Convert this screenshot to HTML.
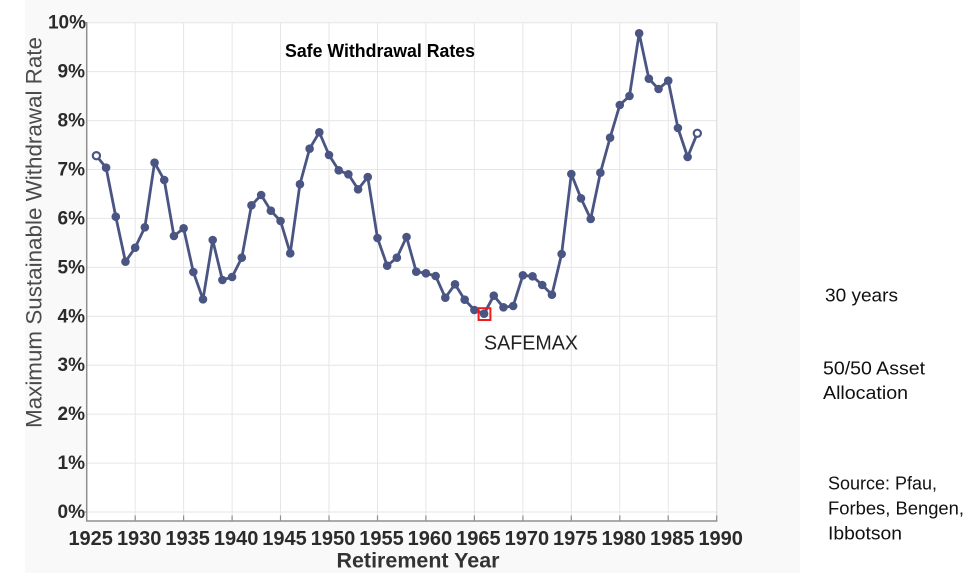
<!DOCTYPE html>
<html>
<head>
<meta charset="utf-8">
<style>
  html, body { margin:0; padding:0; background:#ffffff; }
  body { width:975px; height:580px; overflow:hidden; }
  svg { display:block; }
</style>
</head>
<body>
<svg width="975" height="580" viewBox="0 0 975 580" xmlns="http://www.w3.org/2000/svg">
  <rect x="25" y="0" width="775" height="573" fill="#f9f9f9"/>
  <rect x="86.7" y="22.7" width="630" height="498.3" fill="#ffffff"/>

  <g stroke="#e6e6e6" stroke-width="1">
    <line x1="86.7" y1="22.7" x2="716.7" y2="22.7"/>
    <line x1="86.7" y1="71.6" x2="716.7" y2="71.6"/>
    <line x1="86.7" y1="120.6" x2="716.7" y2="120.6"/>
    <line x1="86.7" y1="169.5" x2="716.7" y2="169.5"/>
    <line x1="86.7" y1="218.4" x2="716.7" y2="218.4"/>
    <line x1="86.7" y1="267.4" x2="716.7" y2="267.4"/>
    <line x1="86.7" y1="316.3" x2="716.7" y2="316.3"/>
    <line x1="86.7" y1="365.2" x2="716.7" y2="365.2"/>
    <line x1="86.7" y1="414.1" x2="716.7" y2="414.1"/>
    <line x1="86.7" y1="463.1" x2="716.7" y2="463.1"/>
    <line x1="86.7" y1="512" x2="716.7" y2="512"/>
    <line x1="135.2" y1="22.7" x2="135.2" y2="521"/>
    <line x1="183.6" y1="22.7" x2="183.6" y2="521"/>
    <line x1="232.1" y1="22.7" x2="232.1" y2="521"/>
    <line x1="280.5" y1="22.7" x2="280.5" y2="521"/>
    <line x1="329.0" y1="22.7" x2="329.0" y2="521"/>
    <line x1="377.5" y1="22.7" x2="377.5" y2="521"/>
    <line x1="425.9" y1="22.7" x2="425.9" y2="521"/>
    <line x1="474.4" y1="22.7" x2="474.4" y2="521"/>
    <line x1="522.9" y1="22.7" x2="522.9" y2="521"/>
    <line x1="571.3" y1="22.7" x2="571.3" y2="521"/>
    <line x1="619.8" y1="22.7" x2="619.8" y2="521"/>
    <line x1="668.2" y1="22.7" x2="668.2" y2="521"/>
  </g>
  <line x1="716.7" y1="22.7" x2="716.7" y2="521" stroke="#dcdcdc" stroke-width="1.2"/>

  <g stroke="#8f8f8f" stroke-width="1.5">
    <line x1="86.7" y1="22" x2="86.7" y2="521.5"/>
    <line x1="86" y1="521" x2="717.4" y2="521"/>
  </g>
  <g stroke="#8f8f8f" stroke-width="1.2">
    <line x1="135.2" y1="515.5" x2="135.2" y2="521"/>
    <line x1="183.6" y1="515.5" x2="183.6" y2="521"/>
    <line x1="232.1" y1="515.5" x2="232.1" y2="521"/>
    <line x1="280.5" y1="515.5" x2="280.5" y2="521"/>
    <line x1="329.0" y1="515.5" x2="329.0" y2="521"/>
    <line x1="377.5" y1="515.5" x2="377.5" y2="521"/>
    <line x1="425.9" y1="515.5" x2="425.9" y2="521"/>
    <line x1="474.4" y1="515.5" x2="474.4" y2="521"/>
    <line x1="522.9" y1="515.5" x2="522.9" y2="521"/>
    <line x1="571.3" y1="515.5" x2="571.3" y2="521"/>
    <line x1="619.8" y1="515.5" x2="619.8" y2="521"/>
    <line x1="668.2" y1="515.5" x2="668.2" y2="521"/>
    <line x1="716.7" y1="515.5" x2="716.7" y2="521"/>
    <line x1="83" y1="22.7" x2="86.7" y2="22.7"/>
    <line x1="83" y1="512" x2="86.7" y2="512"/>
  </g>

  <g font-family="Liberation Sans, Arial, sans-serif" font-weight="bold" font-size="19" fill="#2b2b2b" text-anchor="end">
    <text x="86" y="28.7">10%</text>
    <text x="85" y="77.6">9%</text>
    <text x="85" y="126.6">8%</text>
    <text x="85" y="175.5">7%</text>
    <text x="85" y="224.4">6%</text>
    <text x="85" y="273.4">5%</text>
    <text x="85" y="322.3">4%</text>
    <text x="85" y="371.2">3%</text>
    <text x="85" y="420.1">2%</text>
    <text x="85" y="469.1">1%</text>
    <text x="85" y="518">0%</text>
  </g>

  <g font-family="Liberation Sans, Arial, sans-serif" font-weight="bold" font-size="20" fill="#2b2b2b" text-anchor="middle">
    <text x="90.7" y="545">1925</text>
    <text x="139.2" y="545">1930</text>
    <text x="187.6" y="545">1935</text>
    <text x="236.1" y="545">1940</text>
    <text x="284.5" y="545">1945</text>
    <text x="333.0" y="545">1950</text>
    <text x="381.5" y="545">1955</text>
    <text x="429.9" y="545">1960</text>
    <text x="478.4" y="545">1965</text>
    <text x="526.9" y="545">1970</text>
    <text x="575.3" y="545">1975</text>
    <text x="623.8" y="545">1980</text>
    <text x="672.2" y="545">1985</text>
    <text x="720.7" y="545">1990</text>
  </g>

  <text x="418" y="567.5" font-family="Liberation Sans, Arial, sans-serif" font-weight="bold" font-size="21.5" fill="#333" text-anchor="middle" textLength="163" lengthAdjust="spacingAndGlyphs">Retirement Year</text>
  <text transform="translate(41.5,232.5) rotate(-90)" x="0" y="0" font-family="Liberation Sans, Arial, sans-serif" font-size="22.5" fill="#4a4a4a" text-anchor="middle" textLength="391" lengthAdjust="spacingAndGlyphs">Maximum Sustainable Withdrawal Rate</text>

  <text x="285" y="57" font-family="Liberation Sans, Arial, sans-serif" font-weight="bold" font-size="18.5" fill="#000" textLength="190" lengthAdjust="spacingAndGlyphs">Safe Withdrawal Rates</text>

  <polyline fill="none" stroke="#4a5583" stroke-width="2.8" stroke-linejoin="round" points="96.39,155.7 106.08,167.7 115.78,216.7 125.47,261.7 135.16,247.7 144.85,227.3 154.55,162.7 164.24,180 173.93,236 183.62,228.3 193.32,272 203.01,299.3 212.70,240 222.39,280 232.08,277 241.78,257.7 251.47,205.3 261.16,195 270.85,210.7 280.55,221 290.24,253.3 299.93,184.2 309.62,148.7 319.32,132.3 329.01,155 338.70,170.3 348.39,174.3 358.09,189.3 367.78,177 377.47,238 387.16,265.7 396.86,257.7 406.55,237 416.24,271.7 425.93,273.3 435.62,276 445.32,297.7 455.01,284.3 464.70,299.7 474.39,310 484.09,313.7 493.78,295.7 503.47,307.3 513.16,306 522.86,275.3 532.55,276.3 542.24,285 551.93,294.7 561.63,254 571.32,174 581.01,198.3 590.70,219 600.39,172.7 610.09,137.7 619.78,105 629.47,96 639.16,33.3 648.86,78.7 658.55,89 668.24,80.7 677.93,128 687.63,157 697.32,133.3"/>

  <g fill="#4a5583">
    <circle cx="106.08" cy="167.7" r="4.3"/>
    <circle cx="115.78" cy="216.7" r="4.3"/>
    <circle cx="125.47" cy="261.7" r="4.3"/>
    <circle cx="135.16" cy="247.7" r="4.3"/>
    <circle cx="144.85" cy="227.3" r="4.3"/>
    <circle cx="154.55" cy="162.7" r="4.3"/>
    <circle cx="164.24" cy="180" r="4.3"/>
    <circle cx="173.93" cy="236" r="4.3"/>
    <circle cx="183.62" cy="228.3" r="4.3"/>
    <circle cx="193.32" cy="272" r="4.3"/>
    <circle cx="203.01" cy="299.3" r="4.3"/>
    <circle cx="212.70" cy="240" r="4.3"/>
    <circle cx="222.39" cy="280" r="4.3"/>
    <circle cx="232.08" cy="277" r="4.3"/>
    <circle cx="241.78" cy="257.7" r="4.3"/>
    <circle cx="251.47" cy="205.3" r="4.3"/>
    <circle cx="261.16" cy="195" r="4.3"/>
    <circle cx="270.85" cy="210.7" r="4.3"/>
    <circle cx="280.55" cy="221" r="4.3"/>
    <circle cx="290.24" cy="253.3" r="4.3"/>
    <circle cx="299.93" cy="184.2" r="4.3"/>
    <circle cx="309.62" cy="148.7" r="4.3"/>
    <circle cx="319.32" cy="132.3" r="4.3"/>
    <circle cx="329.01" cy="155" r="4.3"/>
    <circle cx="338.70" cy="170.3" r="4.3"/>
    <circle cx="348.39" cy="174.3" r="4.3"/>
    <circle cx="358.09" cy="189.3" r="4.3"/>
    <circle cx="367.78" cy="177" r="4.3"/>
    <circle cx="377.47" cy="238" r="4.3"/>
    <circle cx="387.16" cy="265.7" r="4.3"/>
    <circle cx="396.86" cy="257.7" r="4.3"/>
    <circle cx="406.55" cy="237" r="4.3"/>
    <circle cx="416.24" cy="271.7" r="4.3"/>
    <circle cx="425.93" cy="273.3" r="4.3"/>
    <circle cx="435.62" cy="276" r="4.3"/>
    <circle cx="445.32" cy="297.7" r="4.3"/>
    <circle cx="455.01" cy="284.3" r="4.3"/>
    <circle cx="464.70" cy="299.7" r="4.3"/>
    <circle cx="474.39" cy="310" r="4.3"/>
    <circle cx="484.09" cy="313.7" r="4.3"/>
    <circle cx="493.78" cy="295.7" r="4.3"/>
    <circle cx="503.47" cy="307.3" r="4.3"/>
    <circle cx="513.16" cy="306" r="4.3"/>
    <circle cx="522.86" cy="275.3" r="4.3"/>
    <circle cx="532.55" cy="276.3" r="4.3"/>
    <circle cx="542.24" cy="285" r="4.3"/>
    <circle cx="551.93" cy="294.7" r="4.3"/>
    <circle cx="561.63" cy="254" r="4.3"/>
    <circle cx="571.32" cy="174" r="4.3"/>
    <circle cx="581.01" cy="198.3" r="4.3"/>
    <circle cx="590.70" cy="219" r="4.3"/>
    <circle cx="600.39" cy="172.7" r="4.3"/>
    <circle cx="610.09" cy="137.7" r="4.3"/>
    <circle cx="619.78" cy="105" r="4.3"/>
    <circle cx="629.47" cy="96" r="4.3"/>
    <circle cx="639.16" cy="33.3" r="4.3"/>
    <circle cx="648.86" cy="78.7" r="4.3"/>
    <circle cx="658.55" cy="89" r="4.3"/>
    <circle cx="668.24" cy="80.7" r="4.3"/>
    <circle cx="677.93" cy="128" r="4.3"/>
    <circle cx="687.63" cy="157" r="4.3"/>
  </g>
  <circle cx="96.39" cy="155.7" r="3.6" fill="#ffffff" stroke="#4a5583" stroke-width="2.2"/>
  <circle cx="697.32" cy="133.3" r="3.6" fill="#ffffff" stroke="#4a5583" stroke-width="2.2"/>

  <rect x="478.6" y="308.2" width="11.8" height="11.8" fill="none" stroke="#ee1c1c" stroke-width="2"/>
  <text x="484" y="349.3" font-family="Liberation Sans, Arial, sans-serif" font-size="20" fill="#222" textLength="94" lengthAdjust="spacingAndGlyphs">SAFEMAX</text>

  <g font-family="Liberation Sans, Arial, sans-serif" font-size="18.5" fill="#111">
    <text x="825" y="301.7" textLength="73" lengthAdjust="spacingAndGlyphs">30 years</text>
    <text x="823" y="374.3" textLength="102" lengthAdjust="spacingAndGlyphs">50/50 Asset</text>
    <text x="823" y="399" textLength="85" lengthAdjust="spacingAndGlyphs">Allocation</text>
    <text x="828" y="489.3" textLength="109" lengthAdjust="spacingAndGlyphs">Source: Pfau,</text>
    <text x="828" y="514.3" textLength="136" lengthAdjust="spacingAndGlyphs">Forbes, Bengen,</text>
    <text x="828" y="539.3" textLength="74" lengthAdjust="spacingAndGlyphs">Ibbotson</text>
  </g>
</svg>
</body>
</html>
